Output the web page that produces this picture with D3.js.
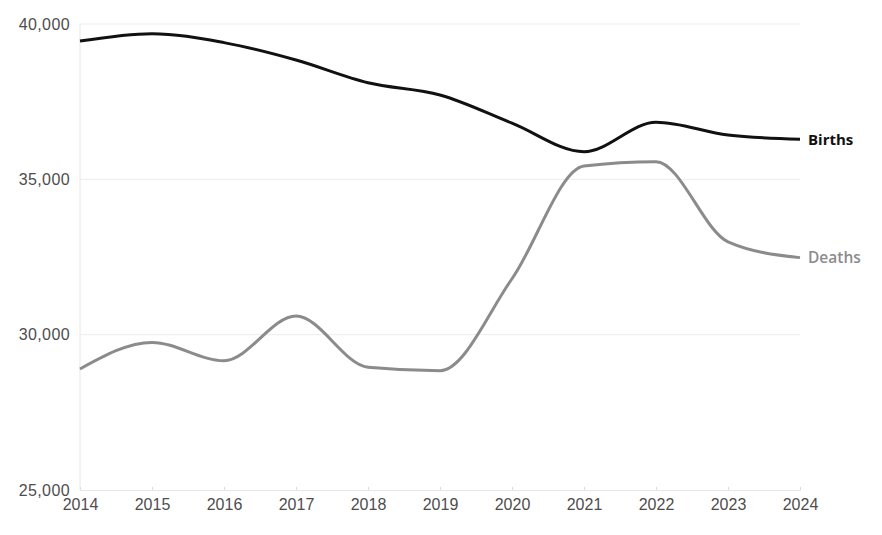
<!DOCTYPE html>
<html>
<head>
<meta charset="utf-8">
<script src="https://cdn.jsdelivr.net/npm/d3@7"></script>
<style>
  html, body { margin: 0; padding: 0; background: #fff; }
  svg { display: block; font-family: "Open Sans", "Noto Sans", sans-serif; }
</style>
</head>
<body>
<svg id="chart" width="882" height="535"></svg>
<script>
const years = [2014, 2015, 2016, 2017, 2018, 2019, 2020, 2021, 2022, 2023, 2024];
const births = [39450, 39690, 39400, 38840, 38110, 37715, 36810, 35890, 36840, 36430, 36290];
const deaths = [28895, 29750, 29160, 30600, 28950, 28840, 31800, 35430, 35570, 32990, 32480];
const yTicks = [25000, 30000, 35000, 40000];
const seriesNames = ["Births", "Deaths"];

const margin = { top: 24, right: 82, bottom: 45, left: 80 };
const W = 882, H = 535;
const svg = d3.select("#chart");

const x = d3.scaleLinear().domain([2014, 2024]).range([margin.left, W - margin.right]);
const y = d3.scaleLinear().domain([25000, 40000]).range([H - margin.bottom, margin.top]);

// gridlines
svg.append("g")
  .selectAll("line")
  .data(yTicks.slice(1))
  .join("line")
  .attr("x1", x(2014)).attr("x2", x(2024))
  .attr("y1", d => y(d)).attr("y2", d => y(d))
  .attr("stroke", "#ececec").attr("stroke-width", 1);

// left axis line
svg.append("line")
  .attr("x1", x(2014)).attr("x2", x(2014))
  .attr("y1", y(40000)).attr("y2", y(25000))
  .attr("stroke", "#e6e6e6").attr("stroke-width", 1);

// y axis labels
const yAxis = d3.axisLeft(y).tickValues(yTicks).tickFormat(d3.format(",")).tickSize(0).tickPadding(10);
const gy = svg.append("g").attr("transform", `translate(${x(2014)},0)`).call(yAxis);
gy.select(".domain").remove();
gy.selectAll("text").attr("fill", "#4d4d4d").style("font-size", "16px").style("letter-spacing", "0.4px");

// x axis
const xAxis = d3.axisBottom(x).tickValues(years).tickFormat(d3.format("d")).tickSize(-3).tickPadding(9);
const gx = svg.append("g").attr("transform", `translate(0,${y(25000)})`).call(xAxis);
gx.select(".domain").attr("stroke", "#e6e6e6");
gx.selectAll(".tick line").attr("stroke", "#dcdcdc");
gx.selectAll("text").attr("fill", "#4d4d4d").style("font-size", "16px");

const line = d3.line()
  .x((d, i) => x(years[i]))
  .y(d => y(d))
  .curve(d3.curveMonotoneX);

svg.append("path").datum(deaths)
  .attr("d", line).attr("fill", "none")
  .attr("stroke", "#8b8b8e").attr("stroke-width", 3);

svg.append("path").datum(births)
  .attr("d", line).attr("fill", "none")
  .attr("stroke", "#111111").attr("stroke-width", 3);

// end labels
svg.append("text")
  .attr("x", x(2024) + 8).attr("y", y(births[births.length - 1]))
  .attr("dy", "0.35em")
  .attr("fill", "#111").style("font-size", "15px").style("font-weight", "700")
  .text(seriesNames[0]);

svg.append("text")
  .attr("x", x(2024) + 8).attr("y", y(deaths[deaths.length - 1]))
  .attr("dy", "0.35em")
  .attr("fill", "#8b8b8e").style("font-size", "15.5px").style("font-weight", "600")
  .text(seriesNames[1]);
</script>
</body>
</html>
